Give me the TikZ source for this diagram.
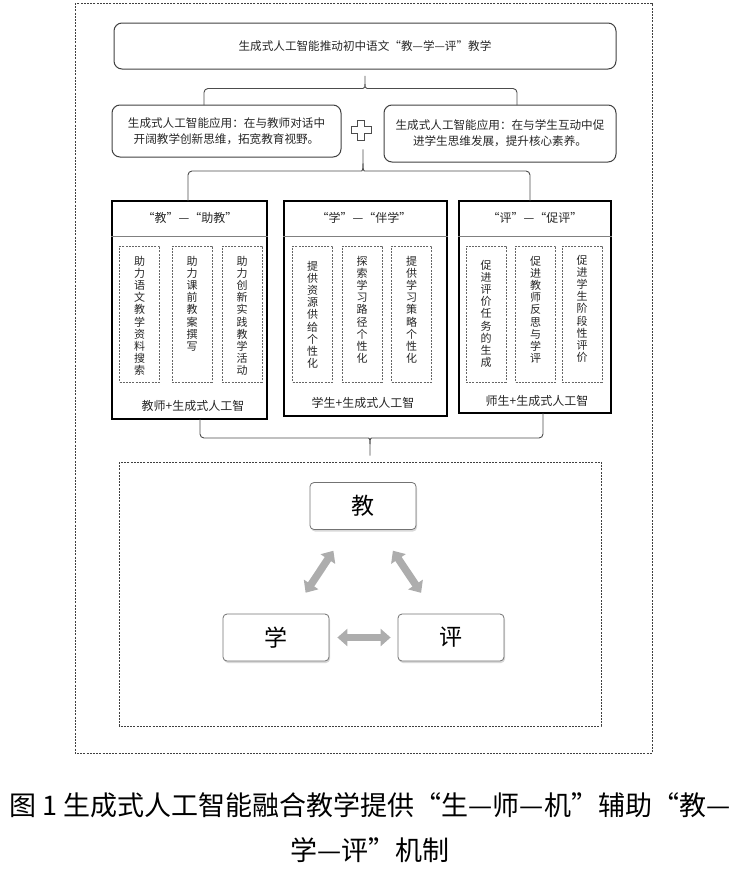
\documentclass[tikz,border=0pt]{standalone}
\usepackage{fontspec}
\setmainfont{Noto Sans CJK SC}
\usetikzlibrary{positioning}
\usetikzlibrary{arrows.meta, shadows}

\begin{document}
\begin{tikzpicture}[x=1pt, y=-1pt,
	every node/.style = {inner sep=0pt, text=black!85},
	frame/.style = {draw=black!75, line width=0.6pt, dash pattern=on 2pt off 1.2pt},
	roundbox/.style = {draw=black!75, line width=1pt, rounded corners=8pt, align=center,
		font=\fontsize{11.6}{16}\selectfont},
	colbox/.style = {draw=black, line width=1.8pt},
	sepline/.style = {draw=black!50, line width=1.2pt},
	headtext/.style = {font=\fontsize{12}{14}\selectfont},
	vbox/.style = {draw=black!60, line width=0.6pt, dash pattern=on 2pt off 1.2pt,
		minimum width=40pt, minimum height=136pt},
	vtext/.style = {align=center, font=\fontsize{11}{12.2}\selectfont},
	tribox/.style = {draw=black!55, line width=0.8pt, rounded corners=4pt, fill=white,
		minimum width=106pt, minimum height=47pt, text=black, font=\fontsize{23}{23}\selectfont,
		drop shadow={shadow xshift=1pt, shadow yshift=-2pt, opacity=0.3}},
	brace/.style = {draw=black!70, line width=0.9pt, rounded corners=4pt},
	biarrow/.style = {draw=black!32, line width=7.5pt,
		{Triangle[width=17pt,length=10pt]}-{Triangle[width=17pt,length=10pt]},
		shorten <=25pt, shorten >=25pt},
	captext/.style = {text=black, font=\fontsize{27}{30}\selectfont}
	]
	\useasboundingbox (0,0) rectangle (741,876);
	\draw [frame] (75,3) rectangle (652,753);
	\draw [frame] (119,462) rectangle (601,726);

	\node (top) [roundbox, minimum width=502pt, minimum height=46pt] at (365,46)
		{生成式人工智能推动初中语文“教—学—评”教学};
	\node (appL) [roundbox, minimum width=229pt, minimum height=52pt] at (226.5,131)
		{生成式人工智能应用：在与教师对话中\\开阔教学创新思维，拓宽教育视野。};
	\node (appR) [roundbox, minimum width=232pt, minimum height=57pt] at (500,133.5)
		{生成式人工智能应用：在与学生互动中促\\进学生思维发展，提升核心素养。};
	\coordinate (plus) at (361,130);
	\draw [brace, rounded corners=0] (plus) ++(-3.5,-10) -- ++(7,0) -- ++(0,6.5) -- ++(6.5,0)
		-- ++(0,7) -- ++(-6.5,0) -- ++(0,6.5) -- ++(-7,0) -- ++(0,-6.5) -- ++(-6.5,0)
		-- ++(0,-7) -- ++(6.5,0) -- cycle;

	% three columns
	\node (colA) [colbox, minimum width=155pt, minimum height=218pt] at (189.5,310) {};
	\node (colB) [colbox, minimum width=163pt, minimum height=215pt] at (365.5,308.5) {};
	\node (colC) [colbox, minimum width=152pt, minimum height=212pt] at (535,307) {};
	\draw [sepline] ([yshift=-36pt]colA.north west) -- ([yshift=-36pt]colA.north east);
	\draw [sepline] ([yshift=-36pt]colB.north west) -- ([yshift=-36pt]colB.north east);
	\draw [sepline] ([yshift=-36pt]colC.north west) -- ([yshift=-36pt]colC.north east);
	\node (hA) [headtext] at (190,218) {“教”—“助教”};
	\node (hB) [headtext] at (364,218) {“学”—“伴学”};
	\node (hC) [headtext] at (535,218) {“评”—“促评”};
	\node (fA) [headtext] at (193,406) {教师+生成式人工智};
	\node (fB) [headtext] at (363,403) {学生+生成式人工智};
	\node (fC) [headtext] at (537,401) {师生+生成式人工智};

	\node (a1) [vbox] at (139.5,314) {};
	\node (a2) [vbox] at (192,314) {};
	\node (a3) [vbox] at (242,314) {};
	\node (b1) [vbox] at (312.5,314) {};
	\node (b2) [vbox] at (362,314) {};
	\node (b3) [vbox] at (411.5,314) {};
	\node (c1) [vbox] at (486,314) {};
	\node (c2) [vbox] at (535.5,314) {};
	\node (c3) [vbox] at (582,314) {};
	\node (a1t) [vtext, below=10pt of a1.north] {助\\力\\语\\文\\教\\学\\资\\料\\搜\\索};
	\node (a2t) [vtext, below=10pt of a2.north] {助\\力\\课\\前\\教\\案\\撰\\写};
	\node (a3t) [vtext, below=10pt of a3.north] {助\\力\\创\\新\\实\\践\\教\\学\\活\\动};
	\node (b1t) [vtext, below=15pt of b1.north] {提\\供\\资\\源\\供\\给\\个\\性\\化};
	\node (b2t) [vtext, below=10pt of b2.north] {探\\索\\学\\习\\路\\径\\个\\性\\化};
	\node (b3t) [vtext, below=10pt of b3.north] {提\\供\\学\\习\\策\\略\\个\\性\\化};
	\node (c1t) [vtext, below=14pt of c1.north] {促\\进\\评\\价\\任\\务\\的\\生\\成};
	\node (c2t) [vtext, below=10pt of c2.north] {促\\进\\教\\师\\反\\思\\与\\学\\评};
	\node (c3t) [vtext, below=9pt of c3.north] {促\\进\\学\\生\\阶\\段\\性\\评\\价};

	% braces
	\coordinate (b1l) at (204,105);
	\coordinate (b1r) at (517,105);
	\draw [brace] (b1l) |- ([yshift=-19pt, xshift=-6pt]top.south)
		.. controls ([yshift=-19pt]top.south) .. ([yshift=-4pt]top.south)
		.. controls ([yshift=-19pt]top.south) .. ([yshift=-19pt, xshift=6pt]top.south) -| (b1r);
	\coordinate (tip2) at (363,147);
	\coordinate (b2l) at (188,201);
	\coordinate (b2r) at (530,201);
	\draw [brace] (b2l) |- ([yshift=-24pt, xshift=-6pt]tip2)
		.. controls ([yshift=-24pt]tip2) .. (tip2)
		.. controls ([yshift=-24pt]tip2) .. ([yshift=-24pt, xshift=6pt]tip2) -| (b2r);
	\coordinate (tip3) at (370,458);
	\coordinate (b3l) at (200,419);
	\coordinate (b3r) at (543,413);
	\draw [brace] (b3l) |- ([yshift=20pt, xshift=-6pt]tip3)
		.. controls ([yshift=20pt]tip3) .. (tip3)
		.. controls ([yshift=20pt]tip3) .. ([yshift=20pt, xshift=6pt]tip3) -| (b3r);

	% teach - learn - evaluate
	\node (jiao) [tribox] at (363,506) {教};
	\node (xue) [tribox] at (276,637.5) {学};
	\node (ping) [tribox] at (451,637.5) {评};
	\draw [biarrow] (xue) -- (jiao);
	\draw [biarrow] (ping) -- (jiao);
	\draw [biarrow, shorten <=8pt, shorten >=7pt] (xue) -- (ping);

	\node (cap1) [captext] at (370,805) {图 1 生成式人工智能融合教学提供“生—师—机”辅助“教—};
	\node (cap2) [captext] at (370,850) {学—评”机制};
\end{tikzpicture}
\end{document}
